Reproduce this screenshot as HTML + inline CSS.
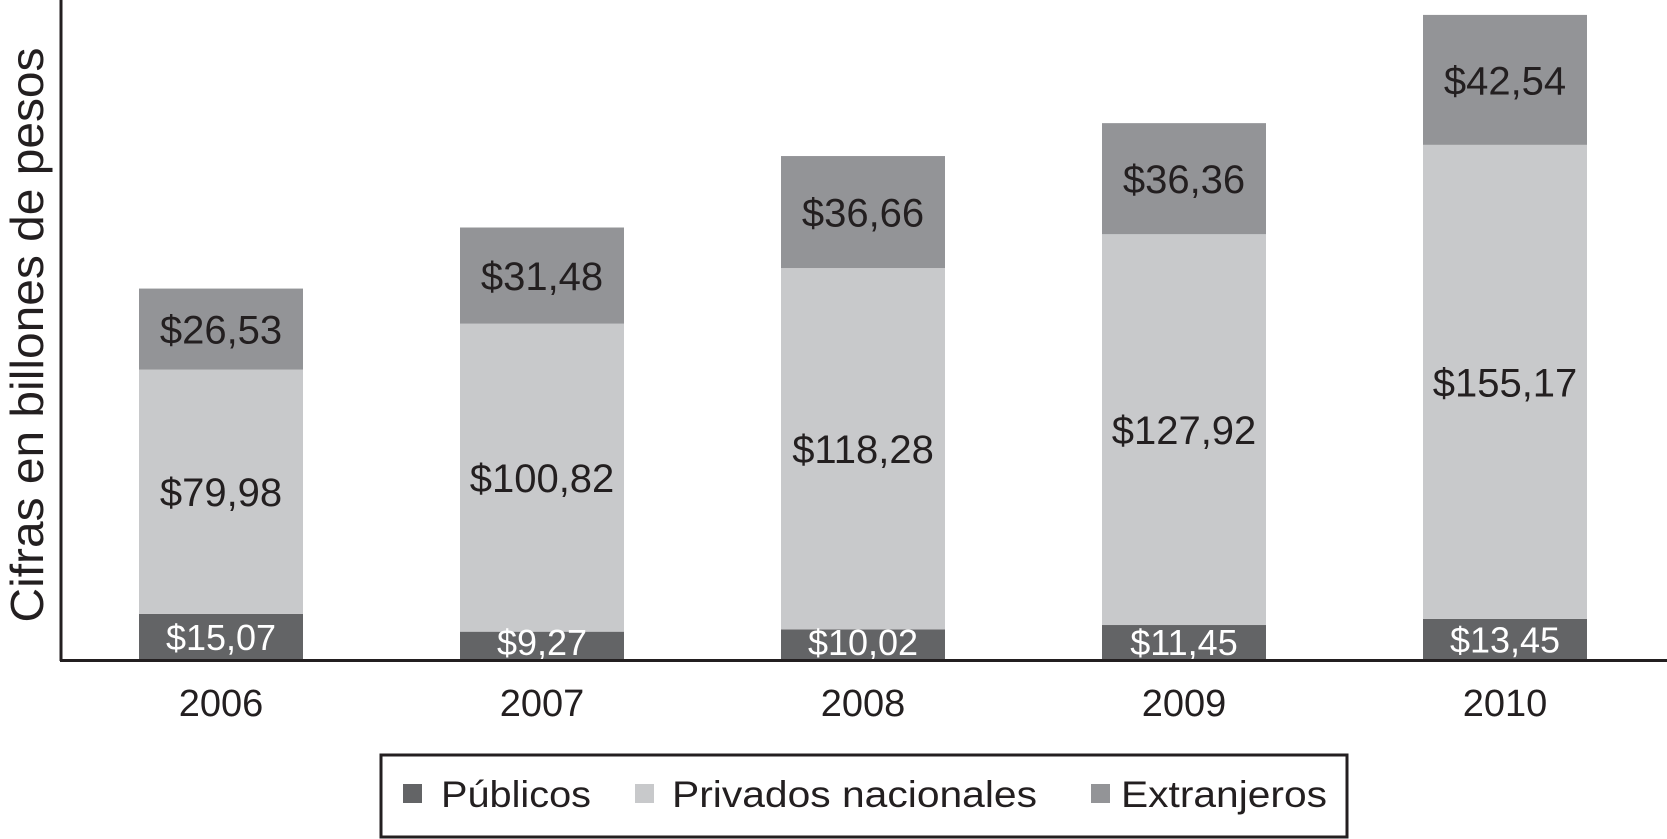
<!DOCTYPE html>
<html><head><meta charset="utf-8">
<style>
html,body{margin:0;padding:0;background:#fff;}
svg{display:block;font-family:"Liberation Sans",Arial,sans-serif;}
</style></head>
<body>
<svg id="chart" width="1667" height="839" viewBox="0 0 1667 839">
<text transform="translate(43,335) rotate(-90)" text-anchor="middle" font-size="46" fill="#231f20" textLength="575" lengthAdjust="spacingAndGlyphs">Cifras en billones de pesos</text>
<g id="bars"></g>
<g id="vlabels"></g>
<line x1="61" y1="0" x2="61" y2="661" stroke="#231f20" stroke-width="3"/>
<line x1="60" y1="660.5" x2="1667" y2="660.5" stroke="#231f20" stroke-width="3"/>
<g id="xlabels"></g>
<g>
<rect x="381" y="755" width="966" height="82" fill="#fff" stroke="#231f20" stroke-width="3"/>
<rect x="403" y="784" width="19" height="19" fill="#636466"/>
<text x="441" y="807" font-size="37" fill="#231f20" textLength="150" lengthAdjust="spacingAndGlyphs">Públicos</text>
<rect x="635" y="784" width="19" height="19" fill="#c8c9cb"/>
<text x="672" y="807" font-size="37" fill="#231f20" textLength="365" lengthAdjust="spacingAndGlyphs">Privados nacionales</text>
<rect x="1091" y="784" width="19" height="19" fill="#939497"/>
<text x="1121" y="807" font-size="37" fill="#231f20" textLength="206" lengthAdjust="spacingAndGlyphs">Extranjeros</text>
</g>
</svg>
<script>
const categories = ["2006","2007","2008","2009","2010"];
const publicos = [15.07, 9.27, 10.02, 11.45, 13.45];
const privados = [79.98, 100.82, 118.28, 127.92, 155.17];
const extranjeros = [26.53, 31.48, 36.66, 36.36, 42.54];
const labelsPublicos = ["$15,07","$9,27","$10,02","$11,45","$13,45"];
const labelsPrivados = ["$79,98","$100,82","$118,28","$127,92","$155,17"];
const labelsExtranjeros = ["$26,53","$31,48","$36,66","$36,36","$42,54"];

const NS = "http://www.w3.org/2000/svg";
const baseY = 660, pxPerUnit = 3.055;
const firstX = 139, step = 321, barW = 164;
function yScale(v){ return baseY - v * pxPerUnit; }
function xScale(i){ return firstX + i * step; }

const barsG = document.getElementById('bars');
const labG = document.getElementById('vlabels');
const xl = document.getElementById('xlabels');
const series = [
  {vals: publicos, labels: labelsPublicos, color: "#636466", text: "#ffffff", key: "publicos", size: 36},
  {vals: privados, labels: labelsPrivados, color: "#c8c9cb", text: "#231f20", key: "privados", size: 40},
  {vals: extranjeros, labels: labelsExtranjeros, color: "#939497", text: "#231f20", key: "extranjeros", size: 40}
];
categories.forEach((cat, i) => {
  let cum = 0;
  const x = xScale(i);
  series.forEach(s => {
    const v = s.vals[i];
    const y0 = yScale(cum), y1 = yScale(cum + v);
    cum += v;
    const r = document.createElementNS(NS, 'rect');
    
    
    r.setAttribute('x', x); r.setAttribute('y', y1);
    r.setAttribute('width', barW); r.setAttribute('height', y0 - y1);
    r.setAttribute('fill', s.color);
    barsG.appendChild(r);
    const t = document.createElementNS(NS, 'text');
    
    
    t.setAttribute('x', x + barW / 2);
    let ty = (y0 + y1) / 2 + s.size * 0.36;
    if (s.key === 'publicos') ty = Math.min(ty, baseY - 5);
    t.setAttribute('y', ty);
    t.setAttribute('text-anchor', 'middle');
    t.setAttribute('font-size', s.size);
    t.setAttribute('fill', s.text);
    t.textContent = s.labels[i];
    labG.appendChild(t);
  });
  const c = document.createElementNS(NS, 'text');
  
  
  c.setAttribute('x', x + barW / 2);
  c.setAttribute('y', 716);
  c.setAttribute('text-anchor', 'middle');
  c.setAttribute('font-size', '38');
  c.setAttribute('fill', '#231f20');
  c.textContent = cat;
  xl.appendChild(c);
});
</script>
</body></html>
